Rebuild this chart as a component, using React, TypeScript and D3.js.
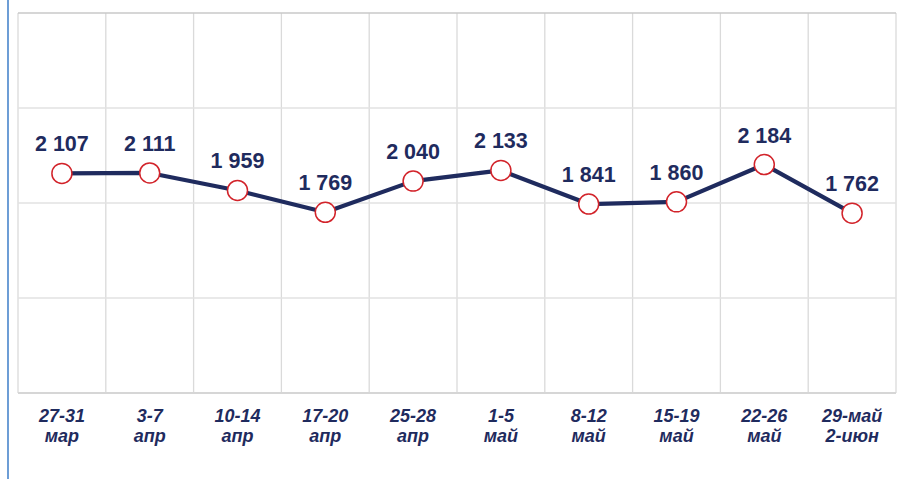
import { scaleBand, scaleLinear, line as d3Line, range } from "d3";

const categories = [
  "27-31|мар",
  "3-7|апр",
  "10-14|апр",
  "17-20|апр",
  "25-28|апр",
  "1-5|май",
  "8-12|май",
  "15-19|май",
  "22-26|май",
  "29-май|2-июн",
];
const values = [2107, 2111, 1959, 1769, 2040, 2133, 1841, 1860, 2184, 1762];
const valueLabels = ["2 107", "2 111", "1 959", "1 769", "2 040", "2 133", "1 841", "1 860", "2 184", "1 762"];

const NAVY = "#1f2b5e";
const RED = "#d2232a";

export default function App() {
  const W = 899;
  const H = 479;
  const plot = { left: 18, right: 896, top: 13, bottom: 393 };

  const xScale = scaleBand<string>()
    .domain(categories)
    .range([plot.left, plot.right]);

  const yScale = scaleLinear().domain([200, 3500]).range([plot.bottom, plot.top]);
  const gridValues = range(5).map((i) => 200 + (i * (3500 - 200)) / 4);

  const cx = (i: number) => (xScale(categories[i]) ?? 0) + xScale.bandwidth() / 2;

  const pathD =
    d3Line<number>()
      .x((_, i) => cx(i))
      .y((d) => yScale(d))(values) ?? "";

  const boundaries = range(categories.length + 1).map(
    (i) => plot.left + i * xScale.bandwidth()
  );

  return (
    <svg
      width={W}
      height={H}
      style={{ position: "absolute", left: 0, top: 0, background: "#fff" }}
      fontFamily="'Liberation Sans', Arial, sans-serif"
    >
      <line x1={8} y1={0} x2={8} y2={H} stroke="#2f74c4" strokeWidth={1.4} />

      {boundaries.map((x, i) => (
        <line
          key={`v-${i}`}
          x1={x}
          y1={plot.top}
          x2={x}
          y2={plot.bottom}
          stroke="#dadada"
          strokeWidth={1.3}
        />
      ))}

      {gridValues.map((v, i) => (
        <line
          key={`h-${i}`}
          x1={plot.left}
          y1={yScale(v)}
          x2={plot.right}
          y2={yScale(v)}
          stroke={i === 0 ? "#d6d6d6" : i === 4 ? "#c8c8c8" : "#e2e2e2"}
          strokeWidth={i === 0 ? 2 : 1.5}
        />
      ))}

      <path d={pathD} fill="none" stroke={NAVY} strokeWidth={4.2} strokeLinejoin="round" />

      {values.map((v, i) => (
        <circle
          key={`pt-${i}`}
          cx={cx(i)}
          cy={yScale(v)}
          r={10}
          fill="#fff"
          stroke={RED}
          strokeWidth={1.5}
        />
      ))}

      {values.map((v, i) => (
        <text
          key={`lbl-${i}`}
          x={cx(i)}
          y={yScale(v) - 22}
          textAnchor="middle"
          fontSize={21.5}
          fontWeight="bold"
          fill={NAVY}
        >
          {valueLabels[i]}
        </text>
      ))}

      {categories.map((c, i) => {
        const [l1, l2] = c.split("|");
        return (
          <text
            key={`cat-${i}`}
            x={cx(i)}
            textAnchor="middle"
            fontSize={18}
            fontWeight="bold"
            fontStyle="italic"
            fill={NAVY}
          >
            <tspan x={cx(i)} y={422}>
              {l1}
            </tspan>
            <tspan x={cx(i)} y={442}>
              {l2}
            </tspan>
          </text>
        );
      })}
    </svg>
  );
}
